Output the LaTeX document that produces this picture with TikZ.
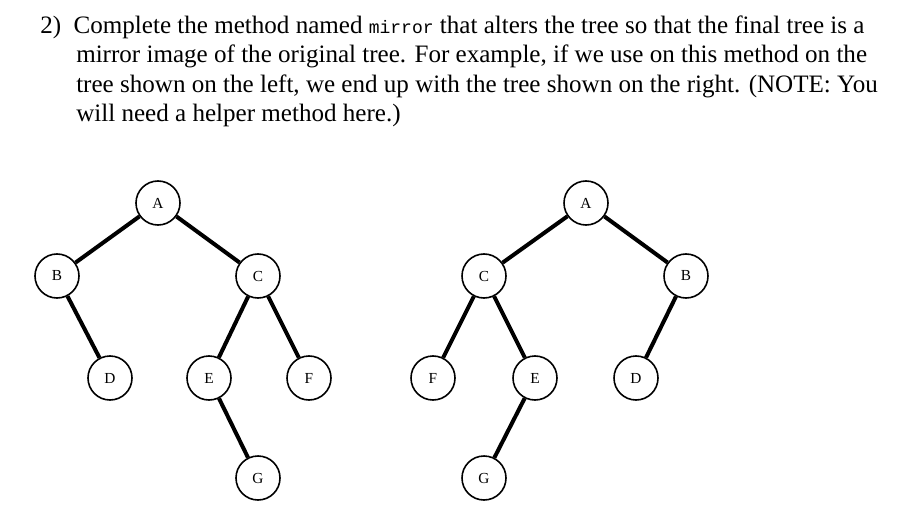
\documentclass[tikz,border=0pt]{standalone}
\usepackage{fontspec}
\setmainfont{Liberation Serif}
\setmonofont{Liberation Mono}
\begin{document}
\begin{tikzpicture}[x=0.75pt,y=-0.75pt,
  tn/.style={circle,draw,line width=1.2pt,minimum size=33pt,inner sep=0pt,font=\fontsize{11.5}{13}\selectfont},
  ed/.style={line width=3pt},
  tl/.style={anchor=base west,inner sep=0pt,font=\fontsize{18.8}{22}\selectfont}]
\useasboundingbox (0,0) rectangle (910,531);
\node[tl] (l1) at (40,34) {2)\hspace{0.5em}Complete the method named {\ttfamily\fontsize{13.5}{14}\selectfont mirror} that alters the tree so that the final tree is a};
\node[tl] (l2) at (76,63) {mirror image of the original tree. For example, if we use on this method on the};
\node[tl] (l3) at (76,93) {tree shown on the left, we end up with the tree shown on the right. (NOTE: You};
\node[tl] (l4) at (76,122) {will need a helper method here.)};
\node[tn] (a1) at (158,203) {A};
\node[tn] (b1) at (57,276) {B};
\node[tn] (c1) at (258,276) {C};
\node[tn] (d1) at (110,378) {D};
\node[tn] (e1) at (209,378) {E};
\node[tn] (f1) at (309,378) {F};
\node[tn] (g1) at (258,478) {G};
\draw[ed] (a1)--(b1); \draw[ed] (a1)--(c1); \draw[ed] (b1)--(d1);
\draw[ed] (c1)--(e1); \draw[ed] (c1)--(f1); \draw[ed] (e1)--(g1);
\node[tn] (a2) at (586,203) {A};
\node[tn] (c2) at (484,276) {C};
\node[tn] (b2) at (686,276) {B};
\node[tn] (f2) at (433,378) {F};
\node[tn] (e2) at (535,378) {E};
\node[tn] (d2) at (636,378) {D};
\node[tn] (g2) at (484,478) {G};
\draw[ed] (a2)--(c2); \draw[ed] (a2)--(b2); \draw[ed] (b2)--(d2);
\draw[ed] (c2)--(f2); \draw[ed] (c2)--(e2); \draw[ed] (e2)--(g2);
\end{tikzpicture}
\end{document}
